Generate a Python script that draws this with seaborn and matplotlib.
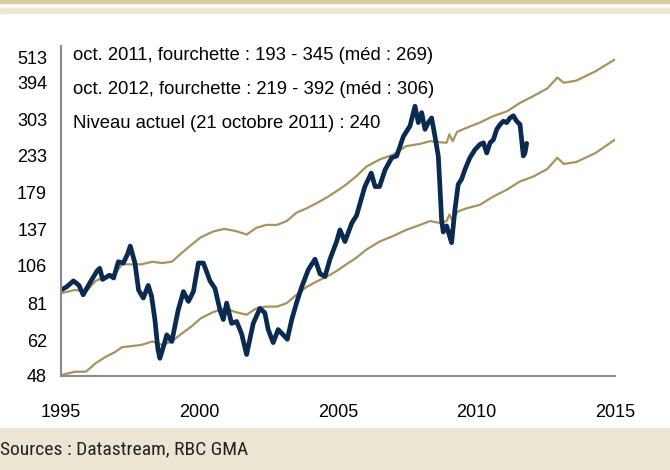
import matplotlib
matplotlib.use("Agg")
import matplotlib.pyplot as plt
import matplotlib.transforms as mtransforms
from matplotlib.patches import Rectangle
import pandas as pd
import seaborn as sns

# Indice (mensuel)
indice_annees = [
    1995.0, 1995.2, 1995.45, 1995.65, 1995.8, 1996.05, 1996.3, 1996.4, 1996.5, 1996.75,
    1996.9, 1997.07, 1997.25, 1997.4, 1997.5, 1997.67, 1997.8, 1997.97, 1998.15, 1998.27,
    1998.39, 1998.5, 1998.57, 1998.69, 1998.82, 1999.0, 1999.23, 1999.42, 1999.6, 1999.78,
    1999.96, 2000.14, 2000.38, 2000.56, 2000.74, 2000.86, 2000.98, 2001.16, 2001.34, 2001.52,
    2001.7, 2001.94, 2002.18, 2002.36, 2002.48, 2002.66, 2002.84, 2003.02, 2003.17, 2003.33,
    2003.5, 2003.69, 2003.93, 2004.17, 2004.35, 2004.53, 2004.71, 2004.95, 2005.07, 2005.25,
    2005.5, 2005.67, 2005.97, 2006.2, 2006.34, 2006.5, 2006.7, 2006.94, 2007.12, 2007.36,
    2007.6, 2007.78, 2007.9, 2008.02, 2008.14, 2008.26, 2008.38, 2008.5, 2008.62, 2008.68,
    2008.74, 2008.8, 2008.92, 2009.1, 2009.22, 2009.34, 2009.46, 2009.58, 2009.76, 2009.95,
    2010.12, 2010.25, 2010.37, 2010.49, 2010.61, 2010.73, 2010.85, 2010.97, 2011.09, 2011.21,
    2011.33, 2011.45, 2011.57, 2011.63, 2011.69, 2011.75, 2011.81,
]
indice_valeurs = [
    89, 91, 95, 92, 86, 94, 102, 104, 96, 99,
    97, 109, 108, 115, 122, 108, 89, 84, 92, 85,
    72, 58, 54.5, 59, 64.5, 61.5, 77, 88, 82, 88,
    108, 108, 95, 90, 77, 72, 81, 70, 71, 65,
    56, 70, 78, 75.5, 67, 61, 67, 64.5, 62.5, 72,
    81, 91, 103, 111, 100, 98, 111, 126, 137, 126,
    144, 152, 187, 206, 187, 187, 211, 230, 233, 268,
    289, 333, 296, 318, 282, 296, 306, 268, 233, 187,
    147, 135, 141, 125, 158, 190, 197, 211, 230, 244,
    253, 256, 238, 256, 262, 282, 292, 299, 296, 306,
    311, 299, 292, 262, 233, 238, 255,
]

# Fourchette de juste valeur (bornes haute et basse)
bande_annees = [
    1995.0, 1995.5, 1995.9, 1996.25, 1996.6, 1996.95, 1997.2, 1997.55, 1997.9, 1998.3,
    1998.65, 1999.0, 1999.35, 1999.7, 2000.05, 2000.5, 2000.9, 2001.3, 2001.7, 2002.05,
    2002.4, 2002.8, 2003.15, 2003.5, 2003.87, 2004.23, 2004.6, 2004.95, 2005.3, 2005.65,
    2006.03, 2006.5, 2006.98, 2007.46, 2007.96, 2008.32, 2008.68, 2008.92, 2009.02, 2009.14,
    2009.3, 2009.64, 2010.12, 2010.6, 2011.1, 2011.57, 2012.05, 2012.55, 2012.92, 2013.15,
    2013.6, 2014.3, 2015.0,
]
bande_haute = [
    87, 89, 88, 95, 98, 100, 107, 107, 107, 109,
    108, 109, 116, 123, 130, 135.5, 138, 136, 132.5, 139,
    142, 142, 146, 155, 160, 166, 173, 181, 190, 201,
    216, 227, 235, 250, 254, 259, 257, 256, 272, 259,
    277, 285, 296, 310, 321, 341, 358, 378, 409, 394,
    400, 428, 466,
]
bande_basse = [
    48.3, 49.5, 49.5, 52.6, 55, 57, 59, 59.5, 60, 61.5,
    60, 61.5, 65, 68.4, 72.7, 76, 78, 76, 74.5, 78,
    79, 79, 81, 86, 91, 94.6, 98, 102, 107, 112,
    119, 126, 131, 137, 142, 146, 144, 146, 153, 146,
    156, 160, 164, 174, 183, 194, 201, 212, 230, 220,
    223, 238, 262,
]

y_ticks = [48, 62, 81, 106, 137, 179, 233, 303, 394, 513]
x_ticks = [1995, 2000, 2005, 2010, 2015]

notes = [
    "oct. 2011, fourchette : 193 - 345 (méd : 269)",
    "oct. 2012, fourchette : 219 - 392 (méd : 306)",
    "Niveau actuel (21 octobre 2011) : 240",
]
source = "Sources : Datastream, RBC GMA"

navy = "#0b2a52"
tan = "#a8925f"

df_indice = pd.DataFrame({"annee": indice_annees, "valeur": indice_valeurs})
df_bande = pd.DataFrame({"annee": bande_annees, "haute": bande_haute, "basse": bande_basse})

sns.set_style("white")
plt.rcParams["font.family"] = ["Liberation Sans", "DejaVu Sans"]

fig = plt.figure(figsize=(6.7, 4.7), dpi=100)
ax = fig.add_axes([61 / 670, 1 - 376 / 470, (615 - 61) / 670, (376 - 46) / 470])

sns.lineplot(data=df_bande, x="annee", y="haute", color=tan, lw=1.6, ax=ax)
sns.lineplot(data=df_bande, x="annee", y="basse", color=tan, lw=1.6, ax=ax)
sns.lineplot(data=df_indice, x="annee", y="valeur", color=navy, lw=3.4, ax=ax,
             solid_joinstyle="round", solid_capstyle="round")

ax.set_yscale("log")
ax.set_ylim(48, 513)
ax.set_xlim(1995, 2015)
ax.set_yticks(y_ticks)
ax.set_yticklabels([str(v) for v in y_ticks])
ax.minorticks_off()
ax.set_xticks(x_ticks)
ax.set_xticklabels([str(v) for v in x_ticks])
ax.set_xlabel("")
ax.set_ylabel("")
ax.tick_params(axis="y", length=0, pad=10, labelsize=13, colors="black")
ax.tick_params(axis="x", length=0, pad=20, labelsize=13, colors="black")

for side in ["top", "right"]:
    ax.spines[side].set_visible(False)
for side in ["left", "bottom"]:
    ax.spines[side].set_color("#8a8a8a")
    ax.spines[side].set_linewidth(1.5)

# le libellé du haut est décalé vers le bas comme dans l'original
top_lbl = ax.get_yticklabels()[-1]
top_lbl.set_transform(top_lbl.get_transform()
                      + mtransforms.ScaledTranslation(0, -0.11, fig.dpi_scale_trans))

for i, txt in enumerate(notes):
    fig.text(73 / 670, 1 - (56 + 33.5 * i) / 470, txt, fontsize=13.3,
             va="center", ha="left", color="black")

# bandeaux décoratifs
fig.patches.append(Rectangle((0, 1 - 3 / 470), 1, 3 / 470, transform=fig.transFigure,
                             color="#d7cc9c", zorder=0))
fig.patches.append(Rectangle((0, 1 - 13 / 470), 1, 5 / 470, transform=fig.transFigure,
                             color="#ede7d5", zorder=0))
fig.patches.append(Rectangle((0, 0), 1, 42 / 470, transform=fig.transFigure,
                             color="#ebe5d2", zorder=0))
fig.text(0.0, 21 / 470, source, fontsize=14, va="center", ha="left", color="#222222",
         family=["Liberation Sans Narrow", "Roboto Condensed", "Liberation Sans"])

fig.savefig("out.png", dpi=100)
